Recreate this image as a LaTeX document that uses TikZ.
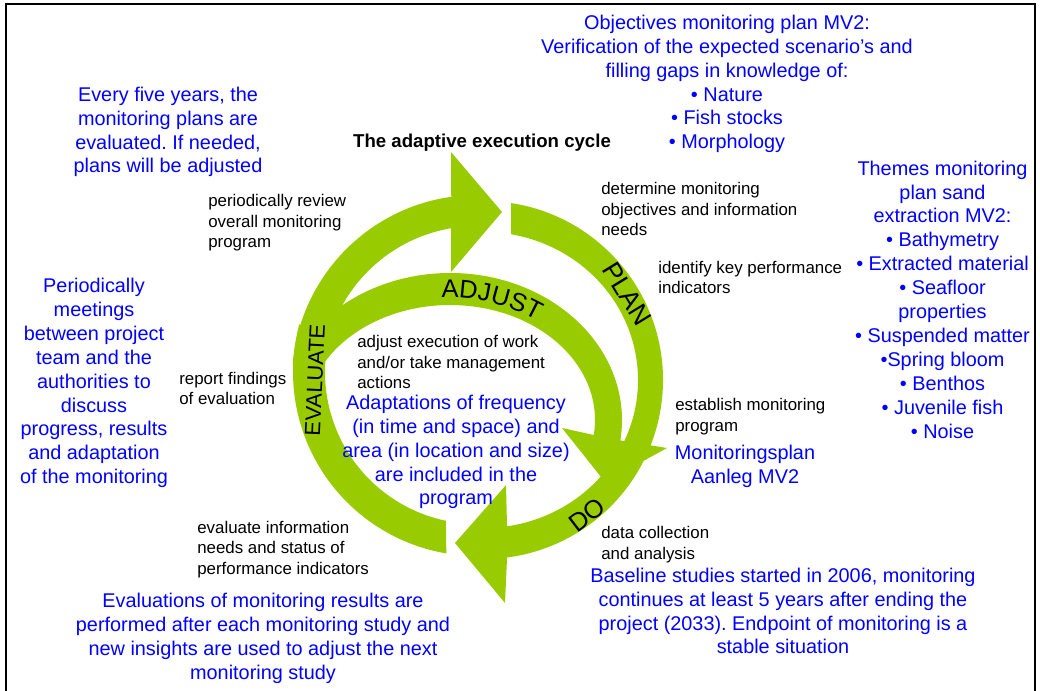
\documentclass[tikz,border=0pt]{standalone}
\usepackage{fontspec}
\setmainfont{Liberation Sans}
\usepackage{tikz}
\usetikzlibrary{decorations.text}
\frenchspacing
\definecolor{leaf}{RGB}{153,204,0}
\newcommand{\stagefont}{\fontsize{14.5}{17.4}\selectfont}
\tikzstyle{greenband} = [fill=leaf, draw=none]
\tikzstyle{blacktext} = [align=left, anchor=west, inner sep=0pt, font=\fontsize{9.6}{11.6}\selectfont]
\tikzstyle{bluetext} = [align=center, inner sep=0pt, text=blue, font=\fontsize{11.3}{13.6}\selectfont]
\tikzstyle{stagelabel} = [inner sep=0pt, font=\stagefont]
\tikzstyle{heading} = [inner sep=0pt, font=\bfseries\fontsize{10.6}{12.7}\selectfont]

\begin{document}
\begin{tikzpicture}[x=0.02cm, y=0.02cm]
\useasboundingbox (0,0) rectangle (1040,690);
\draw [line width=1.2pt] (6,-10) rectangle (1035,686);

% outer cycle
\begin{scope}[shift={(477,310)}]
\fill [greenband] (175:185) arc [start angle=175, end angle=98, radius=185] -- (-26,228) -- (25,168) -- (-26,108) -- (99.7:154) arc [start angle=99.7, end angle=175, radius=154] -- cycle;
\end{scope}
\begin{scope}[shift={(484,310)}]
\fill [greenband] (81.3:179) arc [start angle=81.3, end angle=-82.6, radius=179] -- (21,-223) -- (-29,-163) -- (22,-105) -- (-81.4:154 and 148) arc [start angle=-81.4, end angle=79.9, x radius=154, y radius=148] -- cycle;
\end{scope}
\begin{scope}[shift={(477,318)}]
\fill [greenband] (260.4:184) arc [start angle=260.4, end angle=165, radius=184] -- (165:152) arc [start angle=165, end angle=258.2, radius=152] -- cycle;
\end{scope}
% inner adjust loop
\begin{scope}[shift={(450,270)}]
\fill [greenband] (140:172 and 147) arc [start angle=140, end angle=-8, x radius=172, y radius=147] -- (217,-28) -- (155,-62) -- (112,-8) -- (-7.5:145 and 115) arc [start angle=-7.5, end angle=160, x radius=145, y radius=115] -- cycle;
\path [decorate, decoration={text along path, text={|\stagefont|ADJUST}, text align=center}] (113:150 and 122) arc [start angle=113, end angle=33, x radius=150, y radius=122];
\end{scope}

\node (plan) [stagelabel, font=\fontsize{15}{18}\selectfont, rotate=-58.5] at (627,396) {PLAN};
\node (do) [stagelabel, rotate=37.3] at (587,175) {DO};
\node (evaluate) [stagelabel, font=\fontsize{12.5}{15}\selectfont, rotate=87.3] at (315,310) {EVALUATE};

\node (title) [heading] at (482,547) {The adaptive execution cycle};
\node (aims) [bluetext] at (727,606) {Objectives monitoring plan MV2:\\ Verification of the expected scenario’s and\\ filling gaps in knowledge of:\\ • Nature\\ • Fish stocks\\ • Morphology};
\node (fiveyears) [bluetext] at (168,558) {Every five years, the\\ monitoring plans are\\ evaluated. If needed,\\ plans will be adjusted};
\node (review) [blacktext] at (208,467) {periodically review\\ overall monitoring\\ program};
\node (objectives) [blacktext] at (601,481) {determine monitoring\\ objectives and information\\ needs};
\node (indicators) [blacktext] at (658,412.5) {identify key performance\\ indicators};
\node (themes) [bluetext] at (942.5,390.5) {Themes monitoring\\ plan sand\\ extraction MV2:\\ • Bathymetry\\ • Extracted material\\ • Seafloor\\ properties\\ • Suspended matter\\ •Spring bloom\\ • Benthos\\ • Juvenile fish\\ • Noise};
\node (meetings) [bluetext] at (94,307) {Periodically\\ meetings\\ between project\\ team and the\\ authorities to\\ discuss\\ progress, results\\ and adaptation\\ of the monitoring};
\node (report) [blacktext] at (179,301.5) {report findings\\ of evaluation};
\node (adjustexec) [blacktext] at (357,328) {adjust execution of work\\ and/or take management\\ actions};
\node (adaptations) [bluetext] at (456,238) {Adaptations of frequency\\ (in time and space) and\\ area (in location and size)\\ are included in the\\ program};
\node (establish) [blacktext] at (675,273.5) {establish monitoring\\ program};
\node (mvplan) [bluetext] at (745,223.5) {Monitoringsplan\\ Aanleg MV2};
\node (collection) [blacktext] at (601,145.5) {data collection\\ and analysis};
\node (evalinfo) [blacktext] at (197,140.5) {evaluate information\\ needs and status of\\ performance indicators};
\node (baseline) [bluetext] at (783,79) {Baseline studies started in 2006, monitoring\\ continues at least 5 years after ending the\\ project (2033). Endpoint of monitoring is a\\ stable situation};
\node (insights) [bluetext] at (263,51.5) {Evaluations of monitoring results are\\ performed after each monitoring study and\\ new insights are used to adjust the next\\ monitoring study};
\end{tikzpicture}
\end{document}
